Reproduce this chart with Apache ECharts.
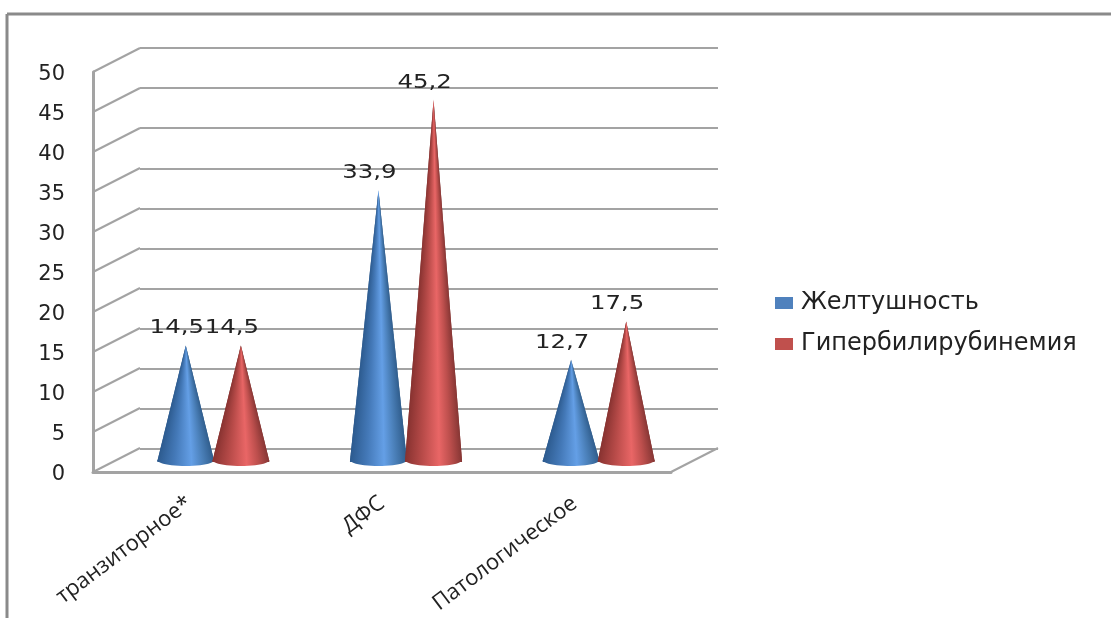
<!DOCTYPE html>
<html>
<head>
<meta charset="utf-8">
<style>
  html, body { margin: 0; padding: 0; background: #fff; }
  #main { width: 1111px; height: 618px; }
</style>
<script src="https://cdn.jsdelivr.net/npm/echarts@6/dist/echarts.min.js"></script>
</head>
<body>
<div id="main"></div>
<script>
var categories = ['транзиторное*', 'ДФС', 'Патологическое'];
var yTicks = [0, 5, 10, 15, 20, 25, 30, 35, 40, 45, 50];
var zheltushnost = [14.5, 33.9, 12.7];
var giperbilirubinemia = [14.5, 45.2, 17.5];

var gridColor = '#a3a3a3';
var depthX = 47, depthY = 24;   // сдвиг задней стенки

// оттенки конуса слева направо
var blueStops = [
  { offset: 0, color: '#2c5a8e' }, { offset: 0.3, color: '#4479b8' },
  { offset: 0.6, color: '#649fe6' }, { offset: 0.8, color: '#4a7fb8' }, { offset: 1, color: '#305d8c' }
];
var redStops = [
  { offset: 0, color: '#873230' }, { offset: 0.3, color: '#b84b49' },
  { offset: 0.6, color: '#e96666' }, { offset: 0.8, color: '#bd4f4d' }, { offset: 1, color: '#863634' }
];

function wallItem(params, api) {
  var p = api.coord([0, api.value(0)]);
  var left = params.coordSys.x;
  var right = left + params.coordSys.width;
  var lineStyle = { stroke: gridColor, lineWidth: 2 };
  var children = [{
    type: 'line',
    shape: { x1: left, y1: p[1], x2: left + depthX, y2: p[1] - depthY },
    style: lineStyle
  }];
  if (api.value(0) === 0) {
    children.push({
      type: 'line',
      shape: { x1: right, y1: p[1], x2: right + depthX, y2: p[1] - depthY },
      style: lineStyle
    });
  }
  return { type: 'group', children: children };
}

function coneItem(stops, side) {
  return function (params, api) {
    var cat = api.value(0), val = api.value(1);
    var band = api.size([1, 0])[0];
    var shift = side * band * 0.143;
    var halfW = band * 0.148;
    var top = api.coord([cat, val]);
    var base = api.coord([cat, 0]);
    var cx = base[0] + shift;
    var h = base[1] - top[1];
    var fill = function () {
      return new echarts.graphic.LinearGradient(0, 0, 1, 0, stops);
    };
    var children = [];
    // нижняя дуга основания
    var arc = [];
    for (var a = 0; a <= 24; a++) {
      var t = Math.PI * a / 24;
      arc.push([cx + halfW * Math.cos(t), base[1] - 1 + (5 + 1) * Math.sin(t)]);
    }
    children.push({ type: 'polygon', shape: { points: arc }, style: { fill: fill() } });
    // полосы высотой в пиксель, чтобы блик сужался к вершине
    var n = Math.ceil(h);
    for (var i = 0; i < n; i++) {
      var f1 = i / n, f2 = (i + 1) / n;
      var y1 = top[1] + f1 * h, y2 = top[1] + f2 * h;
      children.push({
        type: 'polygon',
        shape: {
          points: [
            [cx - halfW * f1, y1], [cx + halfW * f1, y1],
            [cx + halfW * f2, y2 + 1], [cx - halfW * f2, y2 + 1]
          ]
        },
        style: { fill: fill() }
      });
    }
    children.push({
      type: 'text',
      x: cx - 9,
      y: top[1] - 17,
      scaleX: 1.22,
      style: {
        text: String(val).replace('.', ','),
        fontFamily: 'DejaVu Sans',
        fontSize: 20,
        fill: '#222',
        align: 'center',
        verticalAlign: 'middle'
      }
    });
    return { type: 'group', children: children };
  };
}

function zip(values) {
  return values.map(function (v, i) { return [i, v]; });
}

var chart = echarts.init(document.getElementById('main'));
chart.setOption({
  animation: false,
  backgroundColor: '#fff',
  graphic: [
    { type: 'line', shape: { x1: 7, y1: 14, x2: 1111, y2: 14 }, style: { stroke: '#8a8a8a', lineWidth: 3 } },
    { type: 'line', shape: { x1: 7, y1: 14, x2: 7, y2: 618 }, style: { stroke: '#8a8a8a', lineWidth: 3 } }
  ],
  legend: {
    orient: 'vertical',
    left: 770,
    top: 286,
    itemWidth: 18,
    itemHeight: 12,
    itemGap: 17,
    icon: 'rect',
    selectedMode: false,
    data: ['Желтушность', 'Гипербилирубинемия'],
    textStyle: { fontFamily: 'DejaVu Sans', fontSize: 24, color: '#222', padding: [0, 0, 0, 3] }
  },
  grid: [
    { left: 93, top: 72, width: 578, height: 400 },
    { left: 140, top: 48, width: 578, height: 401 },
    { left: 117, top: 61, width: 578, height: 400 }
  ],
  xAxis: [
    {
      gridIndex: 0, type: 'category', data: categories,
      axisLine: { lineStyle: { color: gridColor, width: 3 } },
      axisTick: { show: false },
      axisLabel: { rotate: 37, margin: 29, interval: 0, fontFamily: 'Open Sans', fontSize: 22, color: '#222' }
    },
    { gridIndex: 1, type: 'category', data: categories, axisLine: { show: false }, axisTick: { show: false }, axisLabel: { show: false } },
    { gridIndex: 2, type: 'category', data: categories, show: false }
  ],
  yAxis: [
    {
      gridIndex: 0, type: 'value', min: 0, max: 50, interval: 5,
      axisLine: { show: true, lineStyle: { color: gridColor, width: 3 } },
      axisTick: { show: false },
      splitLine: { show: false },
      axisLabel: {
        margin: 28,
        formatter: '{t|{value}}',
        rich: { t: { padding: [5, 0, 0, 0], fontFamily: 'DejaVu Sans', fontSize: 21, color: '#222' } }
      }
    },
    {
      gridIndex: 1, type: 'value', min: 0, max: 50, interval: 5,
      axisLine: { show: false }, axisTick: { show: false }, axisLabel: { show: false },
      splitLine: { lineStyle: { color: gridColor, width: 2 } }
    },
    { gridIndex: 2, type: 'value', min: 0, max: 50, interval: 5, show: false }
  ],
  series: [
    {
      type: 'custom', xAxisIndex: 0, yAxisIndex: 0, z: 1, silent: true,
      encode: { y: 0 },
      renderItem: wallItem,
      data: yTicks.map(function (v) { return [v]; })
    },
    {
      name: 'Желтушность', type: 'custom', xAxisIndex: 2, yAxisIndex: 2, z: 3,
      itemStyle: { color: '#4f81bd' },
      encode: { x: 0, y: 1 },
      renderItem: coneItem(blueStops, -1),
      data: zip(zheltushnost)
    },
    {
      name: 'Гипербилирубинемия', type: 'custom', xAxisIndex: 2, yAxisIndex: 2, z: 3,
      itemStyle: { color: '#c0504d' },
      encode: { x: 0, y: 1 },
      renderItem: coneItem(redStops, 1),
      data: zip(giperbilirubinemia)
    }
  ]
});
</script>
</body>
</html>
